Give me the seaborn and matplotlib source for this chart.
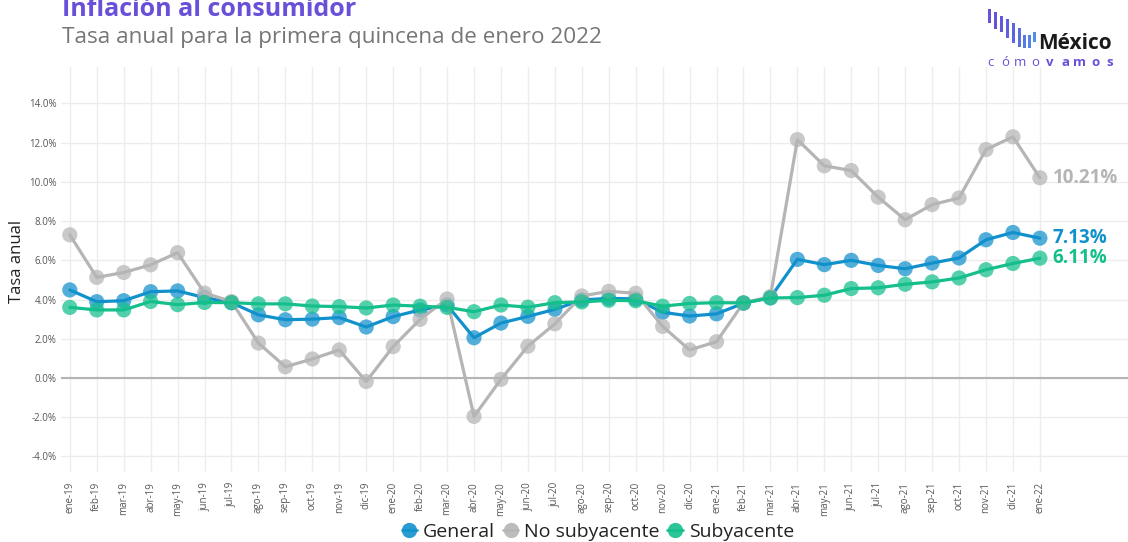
import pandas as pd
import matplotlib
matplotlib.use('Agg')
import matplotlib.pyplot as plt
import seaborn as sns
from matplotlib.lines import Line2D
from matplotlib.patches import Rectangle

# Data
meses = ['ene', 'feb', 'mar', 'abr', 'may', 'jun', 'jul', 'ago', 'sep', 'oct', 'nov', 'dic']
periodos = [f'{m}-{y}' for y in ['19', '20', '21'] for m in meses] + ['ene-22']

general = [4.49, 3.89, 3.94, 4.40, 4.44, 4.10, 3.84, 3.22, 2.97, 3.00, 3.08, 2.60,
           3.13, 3.47, 3.72, 2.05, 2.80, 3.14, 3.50, 3.98, 4.06, 4.03, 3.35, 3.16,
           3.27, 3.81, 4.10, 6.05, 5.78, 6.00, 5.74, 5.57, 5.86, 6.12, 7.05, 7.42, 7.13]
no_subyacente = [7.30, 5.13, 5.38, 5.77, 6.39, 4.33, 3.90, 1.78, 0.57, 0.97, 1.43, -0.18,
                 1.60, 2.99, 4.03, -1.96, -0.07, 1.62, 2.76, 4.18, 4.42, 4.32, 2.63, 1.43,
                 1.85, 3.83, 4.15, 12.16, 10.82, 10.58, 9.22, 8.07, 8.84, 9.18, 11.65, 12.30, 10.21]
subyacente = [3.60, 3.47, 3.47, 3.90, 3.74, 3.85, 3.84, 3.78, 3.78, 3.67, 3.64, 3.57,
              3.72, 3.66, 3.60, 3.38, 3.72, 3.61, 3.84, 3.88, 3.96, 3.94, 3.66, 3.80,
              3.84, 3.83, 4.08, 4.10, 4.22, 4.56, 4.60, 4.78, 4.90, 5.10, 5.52, 5.84, 6.11]

series = ['General', 'No subyacente', 'Subyacente']
colores = {'General': '#1191cc', 'No subyacente': '#b5b5b5', 'Subyacente': '#14bf8c'}

df = pd.DataFrame({'periodo': periodos * 3,
                   'x': list(range(len(periodos))) * 3,
                   'valor': general + no_subyacente + subyacente,
                   'serie': [s for s in series for _ in periodos]})

sns.set_theme(style='white')
plt.rcParams['font.family'] = ['Open Sans', 'DejaVu Sans']

fig = plt.figure(figsize=(11.28, 5.42), dpi=100)
ax = fig.add_axes([0.054, 0.129, 0.946, 0.747])

# Grid
ax.set_axisbelow(True)
ax.grid(True, color='#ececec', linewidth=1)
ax.axhline(0, color='#b4b4b4', linewidth=1.5, zorder=1)

# Lines and markers, one series at a time so later ones sit on top
for i, s in enumerate(series):
    d = df[df['serie'] == s]
    sns.lineplot(data=d, x='x', y='valor', color=colores[s], linewidth=2.3,
                 ax=ax, zorder=3 + i, legend=False)
    sns.scatterplot(data=d, x='x', y='valor', color=colores[s], s=120, alpha=0.72,
                    edgecolor='none', ax=ax, zorder=3 + i, legend=False)
    ultimo = d.iloc[-1]
    ax.annotate(f"{ultimo['valor']:.2f}%", (ultimo['x'], ultimo['valor']),
                xytext=(9, 0), textcoords='offset points', va='center', ha='left',
                fontsize=13.5, fontweight='bold', color=colores[s], zorder=10)

ax.set_xlim(-0.33, 39.27)
ax.set_ylim(-4.8, 15.85)
ax.set_xticks(range(len(periodos)))
ax.set_xticklabels(periodos, rotation=90, fontsize=7, color='#555555')
ax.set_yticks(range(-4, 15, 2))
ax.set_yticklabels([f'{v:.1f}%' for v in range(-4, 15, 2)], fontsize=7, color='#555555')
ax.tick_params(axis='x', pad=7, length=0)
ax.tick_params(axis='y', pad=3, length=0)
ax.set_xlabel('')
ax.set_ylabel('Tasa anual', fontsize=12, color='#222222')
ax.yaxis.set_label_coords(-0.034, 0.52)
sns.despine(ax=ax, left=True, bottom=True)

# Titles
fig.text(0.055, 0.970, 'Inflación al consumidor', fontsize=18, fontweight='bold',
         color='#6a4fd8', va='baseline', ha='left')
fig.text(0.055, 0.921, 'Tasa anual para la primera quincena de enero 2022', fontsize=16.2,
         color='#767676', va='baseline', ha='left')

# Logo
barras = [(988, 9, 23), (994, 12, 29), (1000, 16, 32), (1006, 19, 38), (1012, 23, 43),
          (1018, 28, 47), (1023, 35, 48), (1028, 35, 48), (1033, 32, 42)]
grad = ['#6a4fd8', '#6752da', '#6357dc', '#5f5ede', '#5b66e0', '#5870e2', '#5679e4', '#5484e6', '#528ee8']
for (x0, y0, y1), c in zip(barras, grad):
    fig.add_artist(Rectangle((x0 / 1128, 1 - y1 / 542), 3 / 1128, (y1 - y0) / 542,
                             transform=fig.transFigure, color=c, linewidth=0))
fig.text(1038 / 1128, 1 - 49 / 542, 'México', fontsize=15, fontweight='bold',
         color='#1a1a1a', va='baseline', ha='left')
for k, letra in enumerate('cómovamos'):
    fig.text((990 + k * 15) / 1128, 1 - 66 / 542, letra, fontsize=9.5,
             fontweight='bold' if k >= 4 else 'normal', color='#6a4fd8',
             va='baseline', ha='center')

# Legend
handles = [Line2D([0], [0], color=colores[s], marker='o', markersize=11, linewidth=2,
                  markeredgecolor='none', alpha=0.9) for s in series]
fig.legend(handles, series, loc='center', bbox_to_anchor=(0.53, 0.018), ncol=3,
           frameon=False, fontsize=14, handlelength=0.8, handletextpad=0.3,
           columnspacing=0.4, borderaxespad=0, labelcolor='#222222')

fig.savefig('out.png', dpi=100)
